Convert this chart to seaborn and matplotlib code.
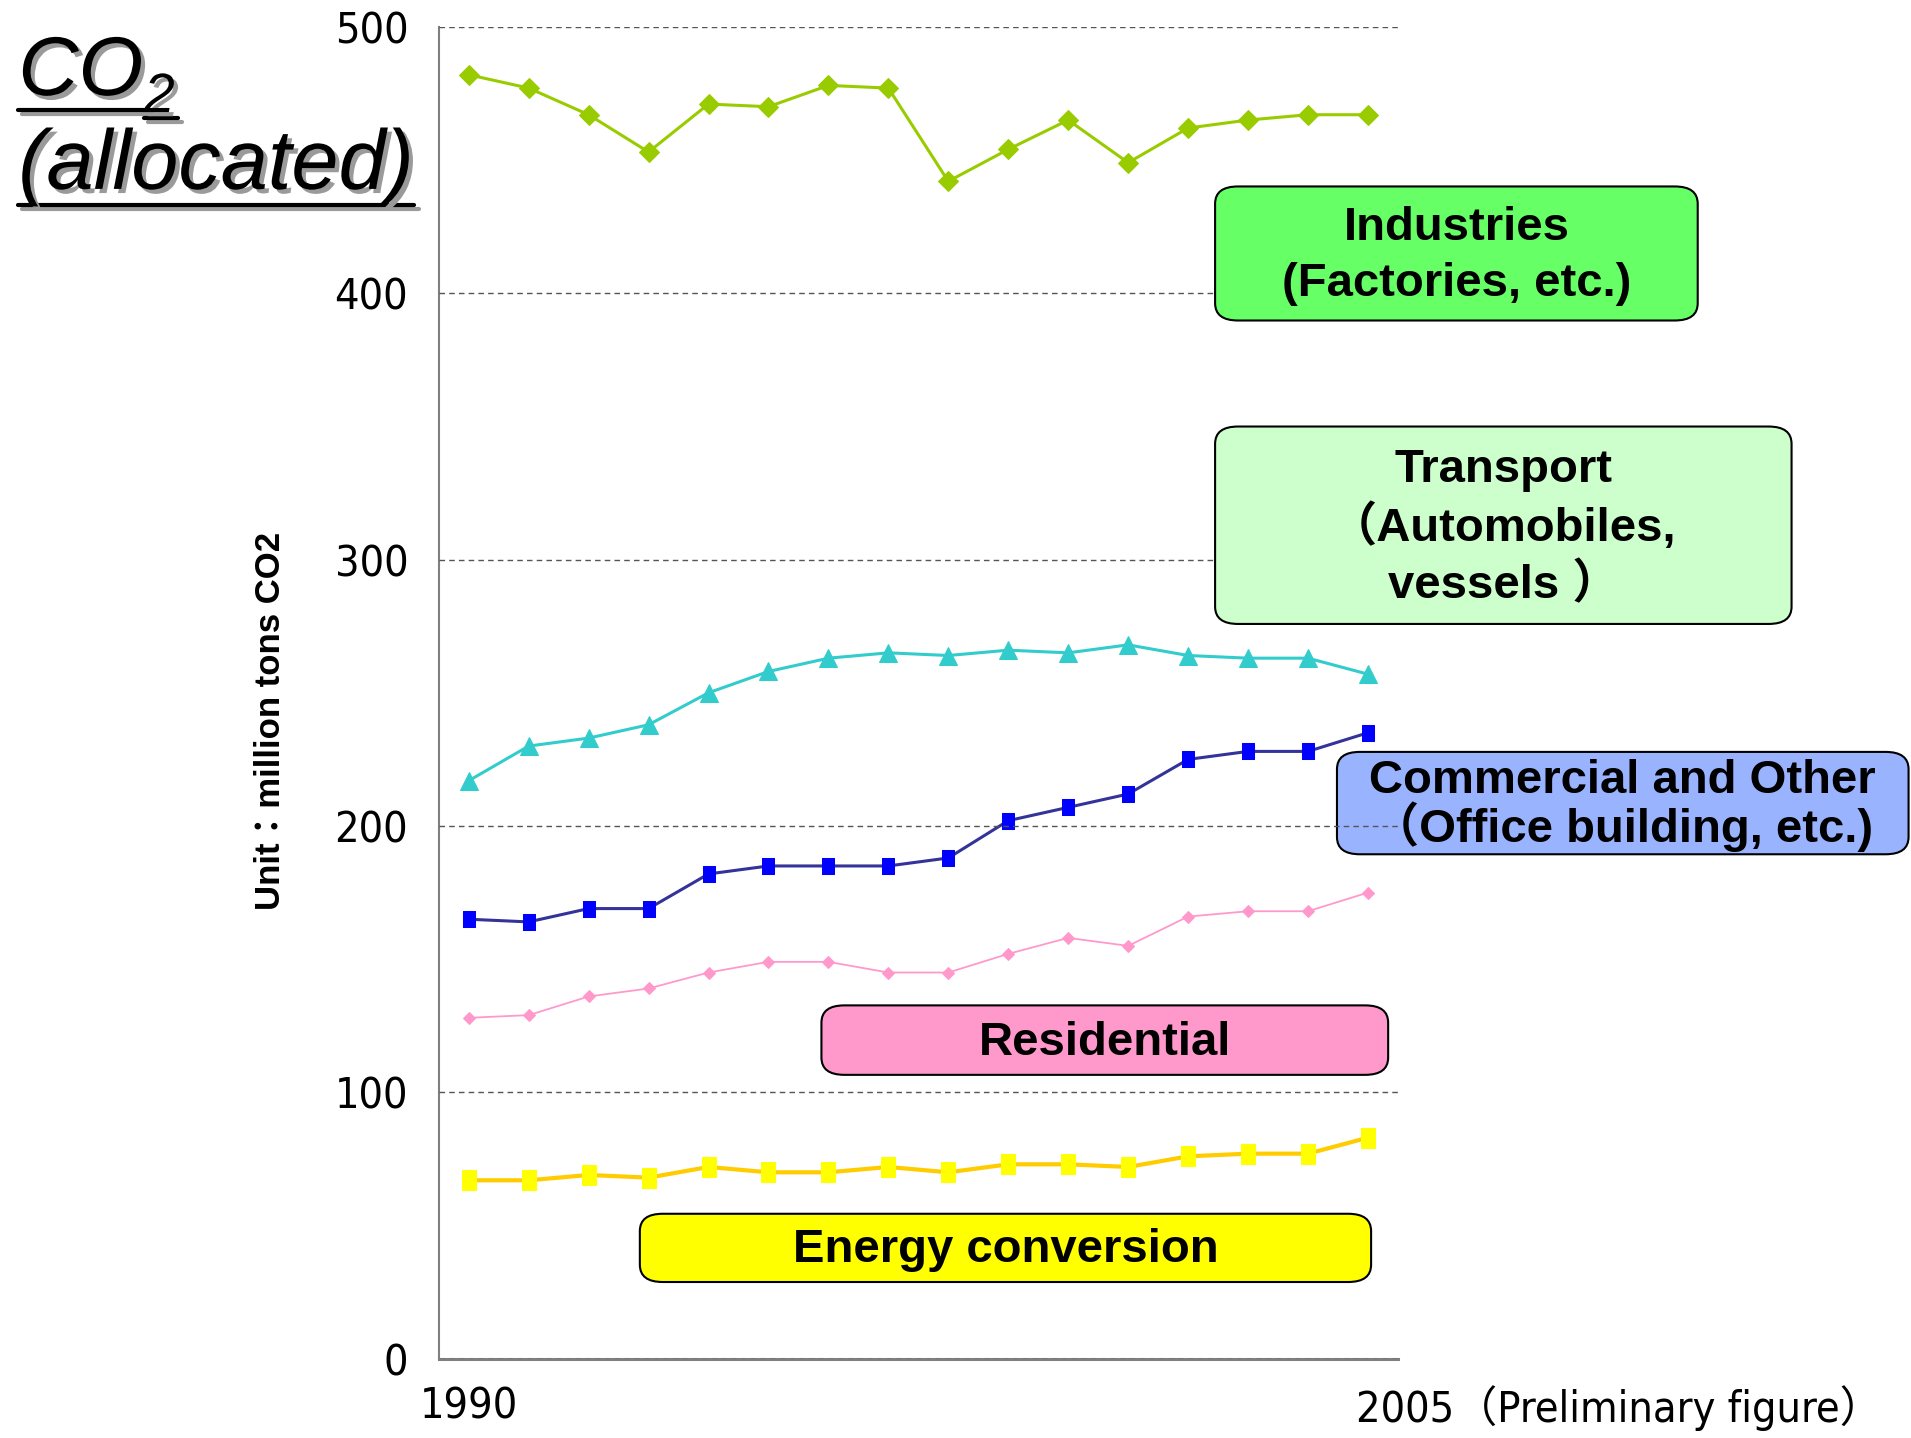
import matplotlib
matplotlib.use("Agg")
import matplotlib.pyplot as plt
from matplotlib import font_manager
from matplotlib.patches import FancyBboxPatch
from matplotlib.lines import Line2D
from matplotlib import patheffects
import seaborn as sns

# Values (million tons CO2)
YEARS = list(range(1990, 2006))
INDUSTRIES = [482, 477, 467, 453, 471, 470, 478, 477, 442, 454, 465, 449, 462, 465, 467, 467]
TRANSPORT = [217, 230, 233, 238, 250, 258, 263, 265, 264, 266, 265, 268, 264, 263, 263, 257]
COMMERCIAL = [165, 164, 169, 169, 182, 185, 185, 185, 188, 202, 207, 212, 225, 228, 228, 235]
RESIDENTIAL = [128, 129, 136, 139, 145, 149, 149, 145, 145, 152, 158, 155, 166, 168, 168, 175]
ENERGY = [67, 67, 69, 68, 72, 70, 70, 72, 70, 73, 73, 72, 76, 77, 77, 83]
X_LABELS = ["1990", "2005（Preliminary figure）"]

sns.set_theme(style="white")
plt.rcParams["font.family"] = ["Liberation Sans", "Noto Sans CJK JP", "DejaVu Sans"]
plt.rcParams.update({"text.color": "black", "xtick.color": "black", "ytick.color": "black"})


def find_condensed():
    # pick an installed narrow / condensed face for the axis numbers
    cands = []
    for f in font_manager.fontManager.ttflist:
        narrow = "Narrow" in f.name or "Condensed" in f.name or "condensed" in str(f.stretch)
        if narrow and f.style == "normal" and f.weight in (400, "normal", "regular"):
            cands.append(f)
    order = ["Liberation Sans Narrow", "DejaVu Sans", "Roboto", "Open Sans", "Noto Sans"]
    cands.sort(key=lambda f: next((i for i, n in enumerate(order) if f.name.startswith(n)), 99))
    if cands:
        return cands[0].name, cands[0].stretch
    return "Liberation Sans", "normal"


NARROW_NAME, NARROW_STRETCH = find_condensed()
NARROW = [NARROW_NAME, "Noto Sans CJK JP", "DejaVu Sans"]

W, H = 1568.0, 1180.0  # reference layout units


def fx(x):
    return x / W


def fy(y):
    return 1 - y / H


fig = plt.figure(figsize=(19.11, 14.38), dpi=100)
ax = fig.add_axes([fx(360), fy(1115), (1147 - 360) / W, (1115 - 22) / H])
ax.patch.set_visible(False)

idx = list(range(len(YEARS)))
tall_box = [(-0.35, -0.5), (0.35, -0.5), (0.35, 0.5), (-0.35, 0.5), (-0.35, -0.5)]

sns.lineplot(x=idx, y=INDUSTRIES, ax=ax, color="#99cc00", lw=2.2, marker="D",
             markersize=10, markerfacecolor="#99cc00", markeredgecolor="#99cc00")
sns.lineplot(x=idx, y=TRANSPORT, ax=ax, color="#33cccc", lw=2.2, marker="^",
             markersize=13, markerfacecolor="#33cccc", markeredgecolor="#33cccc")
sns.lineplot(x=idx, y=COMMERCIAL, ax=ax, color="#333399", lw=2.2, marker=tall_box,
             markersize=12, markerfacecolor="#0000ff", markeredgecolor="#0000ff")
sns.lineplot(x=idx, y=RESIDENTIAL, ax=ax, color="#ff99cc", lw=1.3, marker="D",
             markersize=6, markerfacecolor="#ff99cc", markeredgecolor="#ff99cc")
sns.lineplot(x=idx, y=ENERGY, ax=ax, color="#ffcc00", lw=3, marker=tall_box,
             markersize=15, markerfacecolor="#ffff00", markeredgecolor="#ffff00")

ax.set_xlim(-0.5, len(YEARS) - 0.5)
ax.set_ylim(0, 500)
ax.set_yticks([0, 100, 200, 300, 400, 500])
ax.set_yticklabels(["0", "100", "200", "300", "400", "500"], family=NARROW,
                   stretch=NARROW_STRETCH, fontsize=31)
ax.tick_params(axis="y", length=0, pad=22)
ax.yaxis.grid(True, linestyle=(0, (4, 3)), color="#555555", lw=1)
ax.set_axisbelow(False)

ax.set_xticks([i - 0.5 for i in range(len(YEARS) + 1)])
ax.set_xticklabels([])
ax.tick_params(axis="x", direction="in", length=13, width=1, color="black")
for i, lab in zip([0, len(YEARS) - 1], X_LABELS):
    ax.text(i - (0 if i == 0 else 0.2), -0.02, lab, transform=ax.get_xaxis_transform(),
            ha="center" if i == 0 else "left", va="top", family=NARROW,
            stretch=NARROW_STRETCH, fontsize=31)

for side in ["top", "right"]:
    ax.spines[side].set_visible(False)
ax.spines["left"].set_color("#808080")
ax.spines["left"].set_linewidth(1.5)
ax.spines["bottom"].set_color("#808080")
ax.spines["bottom"].set_linewidth(2.2)

fig.text(fx(222), fy(592), "Unit：million tons CO2", rotation=90, ha="center", va="center",
         fontsize=25, fontweight="bold")

# Sector boxes
boxes = [
    ((997, 153, 1393, 263), "#66ff66", "Industries\n(Factories, etc.)", 1.35, 5),
    ((997, 350, 1470, 512), "#ccffcc", "Transport\n（Automobiles,\nvessels ）", 1.32, 5),
    ((1097, 617, 1566, 701), "#99b3ff", "Commercial and Other\n（Office building, etc.)", 0.95, -1),
    ((674, 825, 1139, 882), "#ff99cc", "Residential", 1.2, 5),
    ((525, 996, 1125, 1052), "#ffff00", "Energy conversion", 1.2, 5),
]
for (x0, y0, x1, y1), fc, label, ls, z in boxes:
    patch = FancyBboxPatch((fx(x0), fy(y1)), fx(x1) - fx(x0), fy(y0) - fy(y1),
                           boxstyle="round,pad=0,rounding_size=0.012",
                           transform=fig.transFigure, facecolor=fc, edgecolor="black",
                           lw=1.5, zorder=z)
    fig.add_artist(patch)
    fig.text(fx((x0 + x1) / 2), fy((y0 + y1) / 2 + 2), label, ha="center", va="center",
             multialignment="center", fontsize=34, fontweight="bold", linespacing=ls,
             zorder=z)

# Title with shadow and underline
shadow = [patheffects.withSimplePatchShadow(offset=(3, -3), shadow_rgbFace="#9a9a9a", alpha=1)]
fig.text(fx(15), fy(78), "CO", fontsize=60, style="italic", ha="left", va="baseline",
         path_effects=shadow, family=["Liberation Sans"])
fig.text(fx(118), fy(92), "2", fontsize=40, style="italic", ha="left", va="baseline",
         path_effects=shadow, family=["Liberation Sans"])
fig.text(fx(15), fy(155), "(allocated)", fontsize=61, style="italic", ha="left", va="baseline",
         path_effects=shadow, family=["Liberation Sans"])
line_shadow = [patheffects.SimpleLineShadow(offset=(3, -3), shadow_color="#9a9a9a", alpha=1),
               patheffects.Normal()]
for (xa, xb, yy) in [(15, 118, 90), (118, 146, 97), (15, 340, 168)]:
    fig.add_artist(Line2D([fx(xa), fx(xb)], [fy(yy), fy(yy)], transform=fig.transFigure,
                          color="black", lw=3, path_effects=line_shadow))

fig.savefig("out.png", dpi=100)
